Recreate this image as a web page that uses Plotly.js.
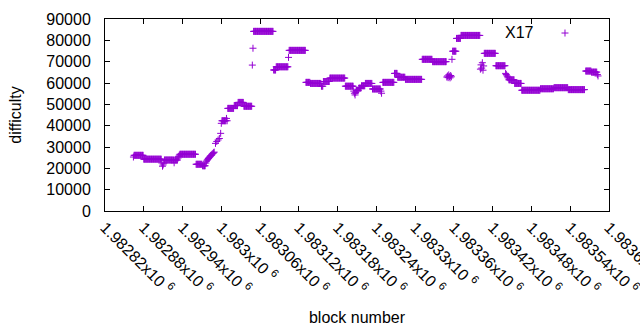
<!DOCTYPE html>
<html><head><meta charset="utf-8">
<script src="https://cdn.plot.ly/plotly-3.0.1.min.js"></script>
<style>html,body{margin:0;padding:0;background:#fff}#chart{width:640px;height:330px}</style>
</head><body><div id="chart"></div>
<script>
// Runs of consecutive blocks with the same difficulty
const runFrom  = [1982865,1982880,1982912,1982928,1982936,1982961,1982971,1983001,1983010,1983020,1983026,1983035,1983050,1983081,1983085,1983105,1983131,1983138,1983155,1983158,1983168,1983192,1983209,1983213,1983217,1983223,1983234,1983250,1983268,1983273,1983285,1983311,1983327,1983358,1983364,1983371,1983407,1983425,1983445,1983454,1983465,1983494,1983515,1983537,1983564,1983573];
const runTo    = [1982879,1982907,1982926,1982932,1982960,1982970,1982975,1983007,1983019,1983025,1983034,1983047,1983080,1983084,1983103,1983130,1983137,1983154,1983157,1983167,1983191,1983204,1983212,1983216,1983222,1983233,1983246,1983267,1983272,1983284,1983310,1983326,1983348,1983363,1983370,1983400,1983424,1983439,1983453,1983464,1983493,1983514,1983536,1983562,1983572,1983581];
const runValue = [26100,24300,23900,23900,26600,21900,21200,42300,48100,49400,50900,49100,84200,66100,67600,75300,60300,59800,58500,60700,62300,58500,56600,57600,58700,59800,57200,60300,64500,62700,61700,71100,70000,74900,80900,82300,73900,68100,61500,59800,56600,57300,57800,56900,65600,65100];

// Individual blocks
const pointBlock = [1982864,1982908,1982909,1982910,1982911,1982927,1982933,1982934,1982935,
  1982976,1982977,1982978,1982979,1982980,1982981,1982982,1982983,1982984,1982985,1982986,1982987,1982988,1982989,
  1982991,1982993,1982995,1982997,1982999,1983000,1983008,1983009,1983048,1983049,1983104,
  1983205,1983206,1983207,1983208,1983247,1983248,
  1983349,1983350,1983351,1983352,1983353,1983354,1983355,1983356,1983357,
  1983401,1983402,1983403,1983404,1983405,1983406,
  1983440,1983441,1983442,1983443,1983444,1983582,1983583];
const pointValue = [25300,22500,21000,21600,22400,22600,24800,25600,26200,
  22500,23300,23800,24200,24600,25000,25300,25700,26000,26300,26700,27000,27300,27600,
  31700,32600,33300,34000,36400,41100,43400,42300,68400,76300,72000,
  56200,55200,54400,55600,56200,55200,
  62800,63300,62500,63800,63000,62400,63500,62900,71100,
  66500,68500,67000,69500,66000,68000,
  64500,64000,63400,62900,62400,64000,63300];

const xTickVals = [1982820,1982880,1982940,1983000,1983060,1983120,1983180,1983240,1983300,1983360,1983420,1983480,1983540,1983600];
const xTickText = ['1.98282','1.98288','1.98294','1.983','1.98306','1.98312','1.98318','1.98324','1.9833','1.98336','1.98342','1.98348','1.98354','1.9836'];
const yTickVals = [0,10000,20000,30000,40000,50000,60000,70000,80000,90000];
const seriesName = 'X17';

const xs = [], ys = [];
for (let i = 0; i < runFrom.length; i++) {
  for (let b = runFrom[i]; b <= runTo[i]; b++) { xs.push(b); ys.push(runValue[i]); }
}
for (let i = 0; i < pointBlock.length; i++) { xs.push(pointBlock[i]); ys.push(pointValue[i]); }

const purple = '#9400d3';
const font = {family: '"Liberation Sans", Arial, sans-serif', size: 16, color: '#000'};

const trace = {
  x: xs, y: ys, type: 'scatter', mode: 'markers', name: ' ',
  marker: {symbol: 'cross-thin-open', size: 5, color: purple, line: {color: purple, width: 1}},
  showlegend: true, hoverinfo: 'skip'
};

const layout = {
  width: 640, height: 330, autosize: false,
  margin: {l: 105, r: 31, t: 19, b: 119},
  paper_bgcolor: '#fff', plot_bgcolor: '#fff',
  font: font,
  showlegend: true,
  legend: {x: 0.873, xanchor: 'left', y: 1.015, yanchor: 'top', bgcolor: 'rgba(0,0,0,0)', font: font, itemwidth: 30},
  xaxis: {
    range: [1982820, 1983600], tickmode: 'array', tickvals: xTickVals,
    ticktext: xTickText.map(t => t + 'x10 <sup>6</sup>'),
    tickangle: 45, ticks: 'inside', ticklen: 5, tickcolor: '#000',
    ticklabeloverflow: 'allow',
    showline: true, linecolor: '#000', linewidth: 1, mirror: 'allticks',
    showgrid: false, zeroline: false, tickfont: font,
    title: {text: 'block number', font: font, standoff: 15}
  },
  yaxis: {
    range: [0, 90000], tickmode: 'array', tickvals: yTickVals, ticktext: yTickVals.map(String),
    ticks: 'inside', ticklen: 5, tickcolor: '#000',
    showline: true, linecolor: '#000', linewidth: 1, mirror: 'allticks',
    showgrid: false, zeroline: false, tickfont: font, ticklabelstandoff: 10,
    title: {text: 'difficulty', font: font, standoff: 20}
  },
  annotations: [{
    xref: 'paper', yref: 'paper', x: (536 - 105) / 504, y: (211 - 32) / 192,
    xanchor: 'right', yanchor: 'middle', text: seriesName, showarrow: false, font: font
  }]
};

Plotly.newPlot('chart', [trace], layout, {displayModeBar: false, staticPlot: true});
</script>
</body></html>
